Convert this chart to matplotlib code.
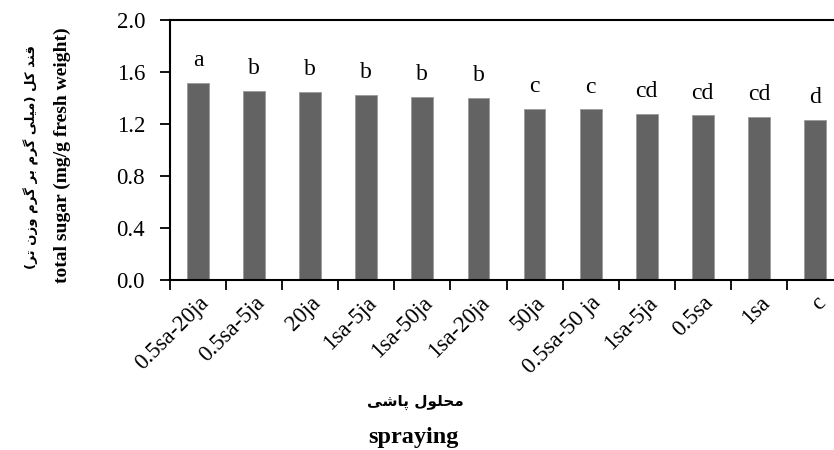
import numpy as np
import matplotlib.pyplot as plt
import matplotlib.transforms as mtransforms
from matplotlib.ticker import FixedLocator, MultipleLocator

treatments = ['0.5sa-20ja', '0.5sa-5ja', '20ja', '1sa-5ja', '1sa-50ja', '1sa-20ja',
              '50ja', '0.5sa-50 ja', '1sa-5ja', '0.5sa', '1sa', 'c']
sugar = [1.515, 1.456, 1.449, 1.426, 1.41, 1.402, 1.318, 1.313, 1.277, 1.267, 1.256, 1.233]
groups = ['a', 'b', 'b', 'b', 'b', 'b', 'c', 'c', 'cd', 'cd', 'cd', 'd']

ylabel_fa = 'قند کل (میلی گرم بر گرم وزن تر)'
ylabel_en = 'total sugar (mg/g fresh weight)'
xlabel_fa = 'محلول پاشی'
xlabel_en = 'spraying'

# contextual forms (isolated, final, initial, medial) - matplotlib does no arabic shaping
FORMS = {
    'ا': ('\uFE8D', '\uFE8E'), 'د': ('\uFEA9', '\uFEAA'), 'ر': ('\uFEAD', '\uFEAE'),
    'ز': ('\uFEAF', '\uFEB0'), 'و': ('\uFEED', '\uFEEE'),
    'ب': ('\uFE8F', '\uFE90', '\uFE91', '\uFE92'), 'ت': ('\uFE95', '\uFE96', '\uFE97', '\uFE98'),
    'ح': ('\uFEA1', '\uFEA2', '\uFEA3', '\uFEA4'), 'ش': ('\uFEB5', '\uFEB6', '\uFEB7', '\uFEB8'),
    'ق': ('\uFED5', '\uFED6', '\uFED7', '\uFED8'), 'ل': ('\uFEDD', '\uFEDE', '\uFEDF', '\uFEE0'),
    'م': ('\uFEE1', '\uFEE2', '\uFEE3', '\uFEE4'), 'ن': ('\uFEE5', '\uFEE6', '\uFEE7', '\uFEE8'),
    'ی': ('\uFBFC', '\uFBFD', '\uFBFE', '\uFBFF'), 'ک': ('\uFB8E', '\uFB8F', '\uFB90', '\uFB91'),
    'گ': ('\uFB92', '\uFB93', '\uFB94', '\uFB95'), 'پ': ('\uFB56', '\uFB57', '\uFB58', '\uFB59'),
}


def shape(s):
    out = []
    for i, ch in enumerate(s):
        if ch not in FORMS:
            out.append(ch)
            continue
        prev = s[i - 1] if i > 0 else ''
        nxt = s[i + 1] if i + 1 < len(s) else ''
        pj = prev in FORMS and len(FORMS[prev]) == 4
        nj = len(FORMS[ch]) == 4 and nxt in FORMS
        f = FORMS[ch]
        if pj and nj:
            out.append(f[3])
        elif pj:
            out.append(f[1])
        elif nj:
            out.append(f[2])
        else:
            out.append(f[0])
    vis = ''.join(reversed(out))
    return vis.translate(str.maketrans('()', ')('))


plt.rcParams['font.family'] = ['Liberation Serif', 'DejaVu Sans']

fig = plt.figure(figsize=(8.34, 4.5), dpi=100)
ax = fig.add_axes([170 / 834, 1 - 280 / 450, 673 / 834, 260 / 450])

x = np.arange(len(treatments))
ax.bar(x, sugar, width=0.39, color='#636363', edgecolor='#9a9a9a', linewidth=0.6)
for xi, v, g in zip(x, sugar, groups):
    ax.annotate(g, (xi, v), xytext=(0, 12), textcoords='offset points',
                ha='center', va='baseline', fontsize=17)

ax.set_xlim(-0.5, len(treatments) - 0.5)
ax.set_ylim(0, 2.0)
ax.yaxis.set_major_locator(MultipleLocator(0.4))
ax.yaxis.set_major_formatter(plt.FuncFormatter(lambda v, p: '%.1f' % v))
ax.set_xticks(x)
ax.set_xticklabels(treatments, rotation=45, ha='right', va='top', rotation_mode='anchor',
                   fontsize=16.5)
# nudge the slanted labels a little to the left
shift = mtransforms.ScaledTranslation(-4 / 100, 0, fig.dpi_scale_trans)
for lbl in ax.get_xticklabels():
    lbl.set_transform(lbl.get_transform() + shift)
ax.xaxis.set_minor_locator(FixedLocator(np.arange(-0.5, len(treatments), 1.0)))
ax.tick_params(axis='x', which='major', length=0, pad=9)
ax.tick_params(axis='x', which='minor', length=7, width=1.3, direction='out')
ax.tick_params(axis='y', length=7, width=1.3, direction='out', pad=11, labelsize=16.5)
for sp in ax.spines.values():
    sp.set_linewidth(1.5)

fig.text(31 / 834, 1 - 157 / 450, shape(ylabel_fa), rotation=90, ha='center', va='center',
         fontsize=9.5, fontweight='bold', family='DejaVu Sans')
fig.text(62 / 834, 1 - 155 / 450, ylabel_en, rotation=90, ha='center', va='center',
         fontsize=14, fontweight='bold')
fig.text(415 / 834, 1 - 402 / 450, shape(xlabel_fa), ha='center', va='center',
         fontsize=11, fontweight='bold', family='DejaVu Sans')
fig.text(413 / 834, 1 - 438 / 450, xlabel_en, ha='center', va='center',
         fontsize=17.5, fontweight='bold')

fig.savefig('out.png', dpi=100)
